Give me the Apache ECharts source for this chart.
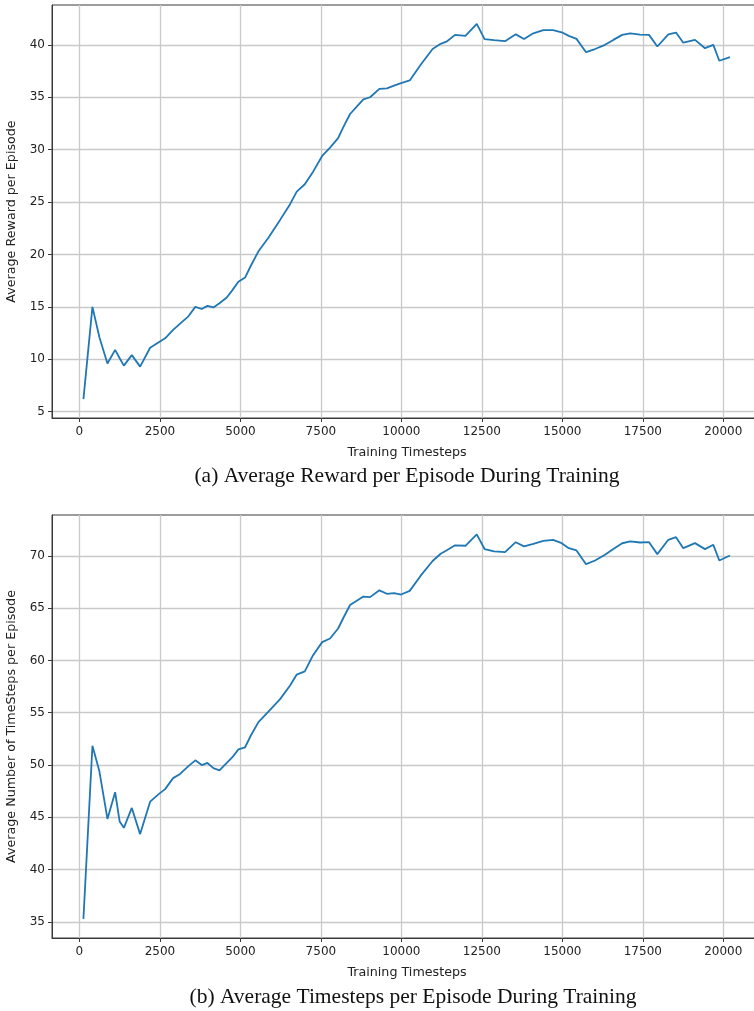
<!DOCTYPE html>
<html>
<head>
<meta charset="utf-8">
<script src="https://cdn.jsdelivr.net/npm/echarts@6/dist/echarts.min.js"></script>
<style>
  html, body { margin: 0; padding: 0; background: #fff; }
  #chart { width: 754px; height: 1011px; }
</style>
</head>
<body>
<div id="chart"></div>
<script>
// Training timesteps at which the averages were logged
const timesteps = [124, 404, 620, 870, 1109, 1250, 1380, 1627, 1885, 2196, 2453, 2661, 2910, 3127, 3385, 3600,
  3800, 3975, 4162, 4350, 4577, 4752, 4938, 5146, 5320, 5560, 5870, 6233, 6543, 6750, 7000, 7258, 7540,
  7785, 8035, 8220, 8407, 8614, 8820, 9028, 9317, 9550, 9770, 9990, 10260, 10600, 10970, 11220, 11400,
  11668, 11990, 12342, 12585, 12880, 13220, 13553, 13810, 14099, 14410, 14711, 14981, 15200, 15440,
  15736, 16016, 16326, 16584, 16860, 17110, 17413, 17693, 17951, 18292, 18531, 18758, 19121, 19432,
  19690, 19876, 20208];

// (a) average reward per episode
const avgReward = [6.2, 15.0, 12.1, 9.6, 10.9, 10.1, 9.4, 10.4, 9.3, 11.1, 11.6, 12.0, 12.8, 13.4, 14.1, 15.0,
  14.8, 15.1, 14.95, 15.35, 15.9, 16.6, 17.4, 17.8, 18.9, 20.3, 21.6, 23.3, 24.8, 26.0, 26.7, 27.9, 29.4,
  30.2, 31.1, 32.3, 33.4, 34.1, 34.8, 35.0, 35.8, 35.85, 36.1, 36.35, 36.6, 38.1, 39.6, 40.1, 40.3,
  40.95, 40.85, 42.0, 40.55, 40.45, 40.35, 41.0, 40.55, 41.1, 41.4, 41.4, 41.2, 40.85, 40.57,
  39.3, 39.6, 40.0, 40.47, 40.95, 41.1, 40.98, 40.95, 39.84, 41.0, 41.17, 40.2, 40.47, 39.68,
  40.0, 38.48, 38.82];

// (b) average number of timesteps per episode
const avgEpisodeSteps = [35.3, 51.85, 49.4, 44.85, 47.4, 44.6, 44.0, 45.9, 43.4, 46.5, 47.2, 47.7, 48.75, 49.15, 49.9, 50.45,
  50.0, 50.2, 49.7, 49.5, 50.2, 50.75, 51.5, 51.7, 52.8, 54.1, 55.1, 56.3, 57.6, 58.65, 58.95, 60.5, 61.75,
  62.1, 63.05, 64.2, 65.3, 65.7, 66.1, 66.05, 66.7, 66.37, 66.43, 66.3, 66.65, 68.1, 69.5, 70.2, 70.5,
  71.0, 70.96, 72.05, 70.65, 70.42, 70.35, 71.3, 70.9, 71.15, 71.43, 71.53, 71.21, 70.73, 70.51,
  69.2, 69.55, 70.1, 70.64, 71.2, 71.37, 71.27, 71.3, 70.16, 71.53, 71.78, 70.73, 71.21, 70.64,
  71.05, 69.55, 70.03];

// Tick labels
const xTicks = [0, 2500, 5000, 7500, 10000, 12500, 15000, 17500, 20000];
const rewardTicks = [5, 10, 15, 20, 25, 30, 35, 40];
const stepTicks = [35, 40, 45, 50, 55, 60, 65, 70];

const LINE_COLOR = '#1f77b4';
const FRAME = '#3a3a3a';
const GRID_LINE = '#c9c9c9';
const TICK_FONT = 'DejaVu Sans';

const zip = (xs, ys) => xs.map((x, i) => [x, ys[i]]);

function xAxisFor(gridIndex) {
  return {
    type: 'value', gridIndex,
    min: -852, max: 21202,
    name: 'Training Timesteps', nameLocation: 'middle', nameGap: 28,
    nameTextStyle: { fontFamily: TICK_FONT, fontSize: 12.7, color: '#222' },
    axisLine: { show: true, onZero: false, lineStyle: { color: FRAME, width: 1 } },
    axisTick: { show: true, length: 4, inside: false, customValues: xTicks, lineStyle: { color: FRAME } },
    axisLabel: { customValues: xTicks, fontFamily: TICK_FONT, fontSize: 12, color: '#222', margin: 8,
      formatter: v => String(v) },
    splitLine: { show: true, lineStyle: { color: GRID_LINE, width: 1.3 } }
  };
}

function yAxisFor(gridIndex, min, max, ticks, name) {
  return {
    type: 'value', gridIndex, min, max,
    name, nameLocation: 'middle', nameGap: 34,
    nameTextStyle: { fontFamily: TICK_FONT, fontSize: 12.7, color: '#222' },
    axisLine: { show: true, onZero: false, lineStyle: { color: FRAME, width: 1 } },
    axisTick: { show: true, length: 4, customValues: ticks, lineStyle: { color: FRAME } },
    axisLabel: { customValues: ticks, fontFamily: TICK_FONT, fontSize: 12, color: '#222', margin: 7,
      formatter: v => String(v) },
    splitLine: { show: true, lineStyle: { color: GRID_LINE, width: 1.3 } }
  };
}

const chart = echarts.init(document.getElementById('chart'), null, { renderer: 'canvas' });

chart.setOption({
  animation: false,
  backgroundColor: '#fff',
  // the plot frames run past the right edge of the page
  grid: [
    { left: 52, top: 5, width: 710, height: 413, outerBoundsMode: 'none', containLabel: false,
      show: true, borderColor: FRAME, borderWidth: 1, backgroundColor: 'transparent' },
    { left: 52, top: 515, width: 710, height: 423, outerBoundsMode: 'none', containLabel: false,
      show: true, borderColor: FRAME, borderWidth: 1, backgroundColor: 'transparent' }
  ],
  xAxis: [xAxisFor(0), xAxisFor(1)],
  yAxis: [
    yAxisFor(0, 4.4, 43.8, rewardTicks, 'Average Reward per Episode'),
    yAxisFor(1, 33.47, 73.9, stepTicks, 'Average Number of TimeSteps per Episode')
  ],
  series: [
    {
      type: 'line', xAxisIndex: 0, yAxisIndex: 0,
      data: zip(timesteps, avgReward),
      showSymbol: false, smooth: false,
      lineStyle: { color: LINE_COLOR, width: 1.8 }
    },
    {
      type: 'line', xAxisIndex: 1, yAxisIndex: 1,
      data: zip(timesteps, avgEpisodeSteps),
      showSymbol: false, smooth: false,
      lineStyle: { color: LINE_COLOR, width: 1.8 }
    }
  ],
  graphic: [
    {
      type: 'text', x: 407, y: 476,
      style: { text: '(a) Average Reward per Episode During Training', textAlign: 'center', textVerticalAlign: 'middle',
        fontFamily: 'Liberation Serif', fontSize: 21.5, fill: '#111' }
    },
    {
      type: 'text', x: 413, y: 997,
      style: { text: '(b) Average Timesteps per Episode During Training', textAlign: 'center', textVerticalAlign: 'middle',
        fontFamily: 'Liberation Serif', fontSize: 21.5, fill: '#111' }
    }
  ]
});
</script>
</body>
</html>
